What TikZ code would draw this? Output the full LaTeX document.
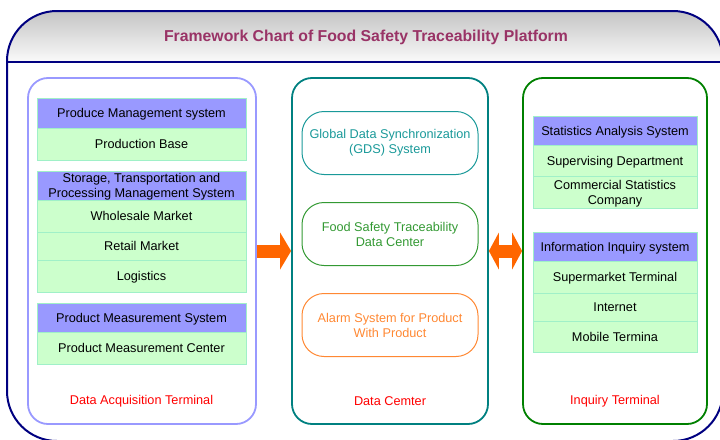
\documentclass[tikz,border=0pt]{standalone}
\usepackage{fontspec}
\setmainfont{Liberation Sans}
\usetikzlibrary{positioning,arrows.meta}

\definecolor{framenavy}{HTML}{000080}
\definecolor{titlemaroon}{HTML}{993366}
\definecolor{headgray}{HTML}{C4C4C4}
\definecolor{headwhite}{HTML}{FAFAFA}
\definecolor{sysblue}{HTML}{9999FF}
\definecolor{unitgreen}{HTML}{CCFFCC}
\definecolor{unitline}{HTML}{A0F0C8}
\definecolor{panelblue}{HTML}{9999FF}
\definecolor{panelteal}{HTML}{008080}
\definecolor{panelgreen}{HTML}{008000}
\definecolor{gdsteal}{HTML}{1A9999}
\definecolor{fsgreen}{HTML}{339933}
\definecolor{alarmorange}{HTML}{FF8833}
\definecolor{floworange}{HTML}{FF6600}
\definecolor{captionred}{HTML}{FF0000}

\begin{document}
\begin{tikzpicture}[x=1pt,y=-1pt,
  every node/.style={font=\fontsize{12.7}{15}\selectfont,inner sep=0pt},
  panel/.style={draw,rounded corners=20pt,line width=1.8pt,minimum height=346pt},
  sysbox/.style={fill=sysblue,draw=unitline,line width=0.8pt,outer sep=0pt,minimum height=30pt,text depth=0pt,align=center},
  unitbox/.style={fill=unitgreen,draw=unitline,line width=0.8pt,outer sep=0pt,minimum height=32pt,text depth=0pt,align=center},
  centerbox/.style={draw,rounded corners=22pt,line width=1pt,minimum width=176pt,minimum height=63pt,align=center},
  caption/.style={text=captionred},
  flow/.style={draw=floworange,line width=13pt}]

\useasboundingbox (0,0) rectangle (720,439);
\clip (0,0) rectangle (720,439);

\begin{scope}
\clip [rounded corners=50pt] (7,11) rectangle (723,441);
\shade [top color=headgray,bottom color=headwhite] (7,11) rectangle (723,62);
\end{scope}
\draw [framenavy,line width=2pt,rounded corners=50pt] (7,11) rectangle (723,441);
\draw [framenavy,line width=2pt] (7,62) -- (723,62);

\node [text=titlemaroon,font=\fontsize{15.8}{18}\selectfont\bfseries] (title) at (366,37) {Framework Chart of Food Safety Traceability Platform};

\node [panel,draw=panelblue,minimum width=228pt] (acq) at (142,251) {};
\node [panel,draw=panelteal,minimum width=196pt] (dc) at (390,251) {};
\node [panel,draw=panelgreen,minimum width=184pt] (inq) at (615,251) {};

\node [sysbox,minimum width=209pt,anchor=north] (pms) at (141.5,98) {Produce Management system};
\node [unitbox,minimum width=209pt,below=0pt of pms] (base) {Production Base};
\node [sysbox,minimum width=209pt,minimum height=29pt,anchor=north] (stp) at (141.5,171) {Storage, Transportation and\\Processing Management System};
\node [unitbox,minimum width=209pt,below=0pt of stp] (whole) {Wholesale Market};
\node [unitbox,minimum width=209pt,minimum height=28pt,below=0pt of whole] (retail) {Retail Market};
\node [unitbox,minimum width=209pt,below=0pt of retail] (logi) {Logistics};
\node [sysbox,minimum width=209pt,minimum height=29pt,anchor=north] (mss) at (141.5,303) {Product Measurement System};
\node [unitbox,minimum width=209pt,below=0pt of mss] (mcenter) {Product Measurement Center};
\node [caption] (acqcap) at (141.5,401) {Data Acquisition Terminal};

\node [centerbox,draw=gdsteal,text=gdsteal] (gds) at (390,143) {Global Data Synchronization\\(GDS) System};
\node [centerbox,draw=fsgreen,text=fsgreen] (fsdc) at (390,234) {Food Safety Traceability\\Data Center};
\node [centerbox,draw=alarmorange,text=alarmorange] (alarm) at (390,325) {Alarm System for Product\\With Product};
\node [caption] (dccap) at (390,401) {Data Cemter};

\node [sysbox,minimum width=164pt,minimum height=29pt,anchor=north] (sas) at (615,116) {Statistics Analysis System};
\node [unitbox,minimum width=164pt,minimum height=31pt,below=0pt of sas] (supdep) {Supervising Department};
\node [unitbox,minimum width=164pt,below=0pt of supdep] (comstat) {Commercial Statistics\\Company};
\node [sysbox,minimum width=164pt,minimum height=29pt,anchor=north] (iis) at (615,232) {Information Inquiry system};
\node [unitbox,minimum width=164pt,below=0pt of iis] (smt) {Supermarket Terminal};
\node [unitbox,minimum width=164pt,minimum height=28pt,below=0pt of smt] (net) {Internet};
\node [unitbox,minimum width=164pt,minimum height=31pt,below=0pt of net] (mobile) {Mobile Termina};
\node [caption] (inqcap) at (615,401) {Inquiry Terminal};

\draw [flow,-{Triangle[length=11pt,width=37pt,line width=0pt]}] (acq.east) -- (dc.west);
\draw [flow,{Triangle[length=10pt,width=37pt,line width=0pt]}-{Triangle[length=10pt,width=37pt,line width=0pt]}] (dc.east) -- (inq.west);

\end{tikzpicture}
\end{document}
